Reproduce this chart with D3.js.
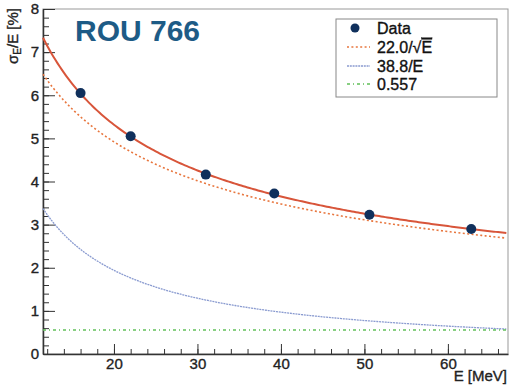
<!DOCTYPE html>
<html>
<head>
<meta charset="utf-8">
<script src="https://cdn.jsdelivr.net/npm/d3@7"></script>
<style>
  body { margin: 0; background: #fff; }
  svg { display: block; font-family: "Liberation Sans", Arial, sans-serif; }
  .axis path, .axis line { stroke: #333; }
  .axis text { fill: #222; font-size: 15px; stroke: #222; stroke-width: 0.35; }
  .label { stroke-width: 0.35; }
</style>
</head>
<body>
<svg id="chart" width="510" height="385"></svg>
<script>
const energies = [16.0, 22.0, 31.0, 39.2, 50.6, 62.8];
const resolution = [6.05, 5.05, 4.16, 3.72, 3.23, 2.90];

// Fit parameters shown in the legend: a/sqrt(E), b/E, c
const fitTerms = ['22.0/\u221AE', '38.8/E', '0.557'];
const fitValues = [22.0, 38.8, 0.557];

const xTicks = [20, 30, 40, 50, 60];
const yTicks = [0, 1, 2, 3, 4, 5, 6, 7, 8];

const svg = d3.select('#chart');
const margin = { left: 43, right: 2, top: 9, bottom: 31 };
const width = 510, height = 385;

const x = d3.scaleLinear()
  .domain([11.5, 67.2])
  .range([margin.left, width - margin.right]);

const y = d3.scaleLinear()
  .domain([0, 8])
  .range([height - margin.bottom, margin.top]);

// frame
svg.append('rect')
  .attr('x', x.range()[0])
  .attr('y', y.range()[1])
  .attr('width', x.range()[1] - x.range()[0])
  .attr('height', y.range()[0] - y.range()[1])
  .attr('fill', 'none')
  .attr('stroke', '#999')
  .attr('stroke-width', 1);

// minor ticks first, then major axes on top
svg.append('g')
  .attr('class', 'axis')
  .attr('transform', `translate(0, ${y.range()[0]})`)
  .call(d3.axisBottom(x).tickValues(d3.range(12, 67, 2)).tickSize(-5).tickFormat(''))
  .call(g => g.select('.domain').remove());

svg.append('g')
  .attr('class', 'axis')
  .attr('transform', `translate(${x.range()[0]}, 0)`)
  .call(d3.axisLeft(y).tickValues(d3.range(0, 8.01, 0.2)).tickSize(-6).tickFormat(''))
  .call(g => g.select('.domain').remove());

svg.append('g')
  .attr('class', 'axis')
  .attr('transform', `translate(0, ${y.range()[0]})`)
  .call(d3.axisBottom(x).tickValues(xTicks).tickSize(-10).tickSizeOuter(0).tickPadding(4))
  .call(g => g.select('.domain').attr('stroke-width', 1.5));

svg.append('g')
  .attr('class', 'axis')
  .attr('transform', `translate(${x.range()[0]}, 0)`)
  .call(d3.axisLeft(y).tickValues(yTicks).tickSize(-12).tickSizeOuter(0).tickPadding(4))
  .call(g => g.select('.domain').attr('stroke-width', 1.5))
  .call(g => g.selectAll('.tick text').attr('x', -4));

// curves
const samples = d3.range(x.domain()[0], x.domain()[1] + 0.01, 0.25);
const [a, b, c] = fitValues;
const terms = [
  e => a / Math.sqrt(e),
  e => b / e,
  e => c
];
const total = e => Math.sqrt(terms.reduce((s, f) => s + f(e) * f(e), 0));

const line = fn => d3.line()
  .x(e => x(e))
  .y(e => y(fn(e)))(samples);

const termStyles = [
  { stroke: '#e8773f', width: 1.6, dash: '2,2.4' },
  { stroke: '#8a9bd0', width: 1.3, dash: '2,0.8' },
  { stroke: '#62c05a', width: 1.5, dash: '3,3,1,3' }
];

const plot = svg.append('g');

terms.forEach((fn, i) => {
  plot.append('path')
    .attr('d', line(fn))
    .attr('fill', 'none')
    .attr('stroke', termStyles[i].stroke)
    .attr('stroke-width', termStyles[i].width)
    .attr('stroke-dasharray', termStyles[i].dash);
});

plot.append('path')
  .attr('d', line(total))
  .attr('fill', 'none')
  .attr('stroke', '#d8553a')
  .attr('stroke-width', 2);

plot.selectAll('circle')
  .data(energies)
  .join('circle')
  .attr('cx', d => x(d))
  .attr('cy', (d, i) => y(resolution[i]))
  .attr('r', 5)
  .attr('fill', '#10305c');

// title inside plot
svg.append('text')
  .attr('x', 75)
  .attr('y', 41)
  .attr('font-size', 30)
  .attr('font-weight', 'bold')
  .attr('fill', '#1d5b86')
  .text('ROU 766');

// legend
const legend = svg.append('g');
legend.append('rect')
  .attr('x', 336).attr('y', 19)
  .attr('width', 161).attr('height', 78)
  .attr('fill', '#fff')
  .attr('stroke', '#888')
  .attr('stroke-width', 1);

const rows = [28, 47, 66, 84];
legend.append('circle')
  .attr('cx', 355).attr('cy', rows[0])
  .attr('r', 4.5)
  .attr('fill', '#10305c');

termStyles.forEach((s, i) => {
  legend.append('line')
    .attr('x1', 347).attr('x2', 370)
    .attr('y1', rows[i + 1]).attr('y2', rows[i + 1])
    .attr('stroke', s.stroke)
    .attr('stroke-width', s.width)
    .attr('stroke-dasharray', s.dash);
});

const labels = ['Data'].concat(fitTerms);
labels.forEach((t, i) => {
  const txt = legend.append('text')
    .attr('class', 'label')
    .attr('x', 377)
    .attr('y', rows[i])
    .attr('dy', '0.36em')
    .attr('font-size', 16)
    .attr('fill', '#111')
    .attr('stroke', '#111');
  if (t.includes('\u221A')) {
    const parts = t.split('\u221A');
    txt.append('tspan').text(parts[0] + '\u221A');
    txt.append('tspan').attr('text-decoration', 'overline').text(parts[1]);
  } else {
    txt.text(t);
  }
});

// axis titles
svg.append('text')
  .attr('class', 'label')
  .attr('x', width - 3)
  .attr('y', 381)
  .attr('text-anchor', 'end')
  .attr('font-size', 15)
  .attr('fill', '#222')
  .attr('stroke', '#222')
  .text('E [MeV]');

const yTitle = svg.append('text')
  .attr('class', 'label')
  .attr('transform', 'translate(18, 8) rotate(-90)')
  .attr('text-anchor', 'end')
  .attr('font-size', 15)
  .attr('fill', '#222')
  .attr('stroke', '#222');
yTitle.append('tspan').text('\u03C3');
yTitle.append('tspan').attr('font-size', 10).attr('dy', 3).text('E');
yTitle.append('tspan').attr('dy', -3).text('/E [%]');
</script>
</body>
</html>
